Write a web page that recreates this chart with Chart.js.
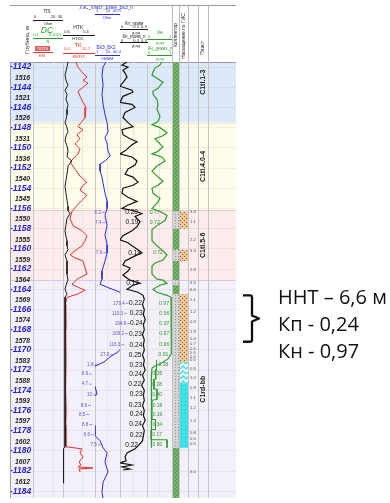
<!DOCTYPE html>
<html>
<head>
<meta charset="utf-8">
<script src="https://cdn.jsdelivr.net/npm/chart.js@4.4.0/dist/chart.umd.min.js"></script>
<style>
  html, body { margin: 0; padding: 0; background: #fff; }
  #wrap { width: 390px; height: 503px; }
</style>
</head>
<body>
<div id="wrap"><canvas id="c" width="390" height="503"></canvas></div>
<script>
// ---- depth reference (absolute depth, m, positive down) ----
const tvdTicks = [1142,1144,1146,1148,1150,1152,1154,1156,1158,1160,1162,1164,1166,1168,1170,1172,1174,1176,1178,1180,1182,1184];
const mdDepth  = [1143.1,1145.1,1147.1,1149.1,1151.1,1153.1,1155.1,1157.1,1159.1,1161.1,1163.1,1165.1,1167.1,1169.1,1171.1,1173.1,1175.1,1177.1,1179.1,1181.1,1183.1];
const mdLabels = ['1516','1521','1526','1531','1536','1540','1545','1550','1555','1559','1564','1569','1574','1578','1583','1588','1593','1597','1602','1607','1612'];

// ---- stratigraphic units ----
const zoneTop    = [1139.5, 1147.5, 1156.2, 1163.1];
const zoneBottom = [1147.5, 1156.2, 1163.1, 1184.7];
const zoneName   = ['C1tl.1-3', 'C1tl.4.0-4', 'C1tl.5-6', 'C1rd-bb'];

// ---- log curves: [depth, value] ----
const ntkCurve = [[1141.5,1.35],[1142.0,1.2],[1142.8,0.9],[1143.3,1.05],[1143.8,1.35],[1144.3,0.9],[1144.7,1.2],[1145.2,1.05],[1145.7,1.35],[1146.2,1.2],[1146.7,1.2],[1147.2,1.05],[1147.5,0.9],[1148.0,1.2],[1148.4,1.35],[1148.8,1.05],[1149.3,0.9],[1149.8,1.2],[1150.3,1.35],[1150.9,1.2],[1151.3,1.95],[1151.8,1.35],[1152.6,1.2],[1153.2,1.05],[1153.8,0.9],[1154.5,1.05],[1155.2,1.2],[1155.8,1.35],[1156.2,1.35],[1156.5,1.65],[1157.0,1.2],[1157.6,1.05],[1158.2,0.9],[1158.8,1.05],[1159.2,1.2],[1159.7,1.2],[1160.1,1.35],[1160.6,0.9],[1161.2,1.2],[1161.8,1.2],[1162.5,1.2],[1163.1,1.35],[1163.5,1.1],[1164.0,0.9],[1164.5,1.2],[1164.8,0.9],[1166.0,0.92],[1168.0,0.9],[1170.0,0.93],[1172.0,0.9],[1174.0,0.92],[1176.0,0.9],[1178.0,0.92],[1179.6,0.9],[1179.8,0.68],[1181.0,0.7],[1182.0,0.66],[1183.2,0.68]];

const tkCurve = [[1141.3,4.26],[1142.0,5.2],[1142.5,6.5],[1143.0,8.1],[1143.3,6.84],[1143.6,8.45],[1144.1,6.5],[1144.4,5.2],[1144.9,5.9],[1145.5,6.84],[1146.0,7.8],[1146.4,7.5],[1147.0,7.5],[1147.4,6.5],[1147.9,5.2],[1148.2,6.84],[1148.7,4.9],[1149.1,5.9],[1149.6,4.26],[1150.1,5.9],[1150.6,5.2],[1151.1,3.62],[1151.4,2.65],[1152.1,4.26],[1152.8,5.9],[1153.4,8.1],[1153.7,6.84],[1154.2,5.9],[1154.7,8.1],[1155.2,6.5],[1155.7,4.9],[1156.3,3.3],[1157.0,2.65],[1157.7,3.62],[1158.2,6.5],[1158.7,8.1],[1159.2,7.5],[1159.7,6.5],[1160.2,4.26],[1160.6,2.65],[1160.9,4.26],[1161.2,6.84],[1161.9,7.5],[1162.5,8.1],[1163.0,4.9],[1163.5,3.3],[1163.8,5.2],[1164.1,7.5],[1164.5,4.9],[1164.8,1.69],[1165.5,1.2],[1168.0,1.3],[1171.0,1.4],[1174.0,1.25],[1176.0,1.45],[1177.5,1.3],[1179.6,1.35],[1179.8,6.5],[1180.2,5.9],[1180.6,6.84],[1181.1,5.6],[1181.4,6.2],[1181.6,5.2],[1181.7,10.06],[1181.8,5.6],[1182.1,5.9]];

const bkCurve = [[1141.3,8.8],[1142.0,5.2],[1142.8,4.5],[1143.8,5.2],[1144.7,4.5],[1145.7,5.2],[1146.7,6.7],[1147.5,8.8],[1148.4,10],[1149.0,6.7],[1149.6,8.8],[1150.3,10],[1150.8,13],[1151.3,6.7],[1151.6,3.5],[1152.3,3.5],[1152.9,4.5],[1153.5,5.2],[1154.5,6.7],[1155.3,8.8],[1156.0,8.8],[1156.7,6.7],[1157.7,8.8],[1158.6,6.7],[1159.6,8.8],[1160.4,8.8],[1161.2,6.7],[1162.2,4.5],[1163.0,4.5],[1163.5,3.5],[1163.8,8.8],[1164.1,25],[1164.5,94],[1164.8,139],[1165.5,180],[1166.4,139],[1167.4,207],[1168.4,158],[1169.2,122],[1170.2,37],[1170.7,13],[1171.2,5.9],[1171.6,1.8],[1172.3,1.39],[1173.3,1.22],[1173.6,1.8],[1174.4,2.35],[1174.8,1.22],[1175.6,1.22],[1176.5,0.94],[1177.2,0.72],[1177.5,1.8],[1178.5,1.8],[1179.0,3.5],[1179.7,5.2],[1180.2,8.8],[1181.1,6.7],[1182.1,10],[1183.1,5.2],[1184.1,4.5],[1184.7,5.2]];

const kpCurve = [[1141.5,0.078],[1141.8,0.022],[1142.0,0.089],[1142.3,0.033],[1142.6,0.056],[1143.0,0.078],[1143.4,0.044],[1143.9,0.0],[1144.3,0.133],[1144.5,0.144],[1144.9,0.033],[1145.5,0.0],[1145.7,0.133],[1146.0,0.167],[1146.5,0.056],[1147.0,0.033],[1147.5,0.089],[1147.9,0.144],[1148.2,0.022],[1148.7,0.033],[1149.1,0.111],[1149.4,0.189],[1149.7,0.133],[1150.3,0.056],[1150.6,0.0],[1150.9,0.133],[1151.3,0.189],[1151.7,0.167],[1152.1,0.089],[1152.6,0.056],[1152.9,0.144],[1153.4,0.2],[1153.7,0.144],[1154.0,0.033],[1154.5,0.022],[1154.9,0.089],[1155.3,0.189],[1155.7,0.078],[1156.0,0.022],[1156.2,0.144],[1156.5,0.244],[1156.8,0.167],[1157.3,0.222],[1157.8,0.189],[1158.2,0.133],[1158.7,0.033],[1159.1,0.0],[1159.4,0.089],[1159.7,0.133],[1160.1,0.2],[1160.4,0.244],[1160.7,0.167],[1161.2,0.056],[1161.6,0.033],[1161.9,0.111],[1162.2,0.089],[1162.6,0.033],[1163.1,0.111],[1163.4,0.222],[1163.6,0.144],[1164.0,0.078],[1164.3,0.2],[1164.6,0.256],[1165.0,0.27],[1165.5,0.25],[1166.0,0.27],[1166.5,0.26],[1167.0,0.28],[1167.5,0.26],[1168.0,0.27],[1168.5,0.25],[1169.0,0.27],[1169.5,0.26],[1170.0,0.27],[1170.5,0.25],[1171.0,0.27],[1171.5,0.26],[1172.0,0.28],[1172.5,0.25],[1173.0,0.27],[1173.5,0.24],[1174.0,0.27],[1174.5,0.26],[1175.0,0.27],[1175.5,0.25],[1176.0,0.27],[1176.5,0.26],[1177.0,0.28],[1177.5,0.25],[1178.0,0.27],[1178.5,0.26],[1179.0,0.25],[1179.3,0.222],[1179.8,0.167],[1180.2,0.078],[1180.6,0.056],[1181.0,0.067],[1181.2,0.0],[1181.4,0.133],[1181.6,0.022],[1181.8,0.111],[1181.9,0.033]];

const knCurve = [[1141.3,0.64],[1141.8,0.52],[1142.1,0.32],[1142.5,0.24],[1142.8,0.2],[1143.1,0.4],[1143.5,0.64],[1144.1,0.44],[1144.4,0.24],[1144.7,0.24],[1145.2,0.4],[1145.7,0.44],[1146.2,0.4],[1146.9,0.52],[1147.4,0.44],[1147.7,0.2],[1148.0,0.52],[1148.5,0.8],[1148.8,0.64],[1149.1,0.32],[1149.6,0.52],[1149.9,0.64],[1150.4,0.4],[1150.6,0.2],[1150.9,0.6],[1151.3,0.72],[1151.8,0.4],[1152.3,0.2],[1152.8,0.4],[1153.3,0.64],[1153.7,0.44],[1154.0,0.2],[1154.5,0.24],[1155.0,0.52],[1155.5,0.4],[1156.0,0.2],[1156.3,0.52],[1156.7,0.8],[1157.2,0.72],[1157.7,0.4],[1158.1,0.2],[1158.6,0.2],[1159.2,0.2],[1159.7,0.4],[1160.2,0.64],[1160.6,0.8],[1161.1,0.64],[1161.4,0.32],[1161.7,0.2],[1162.5,0.2],[1163.0,0.4],[1163.1,0.64],[1163.4,0.8],[1163.6,0.52],[1164.0,0.24],[1164.3,0.4],[1164.6,0.8],[1164.8,0.96],[1166.0,0.97],[1167.0,0.98],[1168.0,0.97],[1169.0,0.98],[1170.0,0.97],[1170.4,0.96],[1170.9,0.84],[1171.4,0.52],[1171.6,0.32],[1171.8,0.2],[1172.5,0.18],[1174.0,0.17],[1176.0,0.19],[1178.0,0.17],[1179.7,0.18]];

// ---- interpretation: reservoir and saturation intervals ----
const reservoirTop    = [1156.3, 1160.1, 1163.1, 1164.5];
const reservoirBottom = [1158.0, 1161.2, 1163.6, 1179.7];
const satTop    = [1156.3, 1160.1, 1164.5, 1171.2, 1173.3];
const satBottom = [1158.0, 1161.2, 1171.2, 1173.3, 1179.7];
const satType   = ['oil', 'oil', 'oil', 'transition', 'water'];

// ---- interpreted layers: resistivity, porosity, oil saturation ----
const layerDepth = [1156.4,1157.4,1160.4,1163.4,1165.4,1166.4,1167.4,1168.4,1169.5,1170.5,1171.5,1172.4,1173.4,1174.4,1175.5,1176.4,1177.4,1178.4,1179.4];
const layerRt = [6.2,7.4,7.9,null,179.4,110.3,194.8,209.2,116.3,27.8,1.8,8.9,4.7,13,8.6,8.5,8.8,6.6,7.5];
const layerKp = [0.20,0.19,0.18,0.17,0.22,0.23,0.24,0.23,0.24,0.25,0.23,0.24,0.22,0.23,0.23,0.24,0.24,0.22,0.22];
const layerKn = [0.77,0.72,0.72,null,0.97,0.96,0.97,0.97,0.96,0.91,0.38,0.35,0.28,0.40,0.19,0.19,0.34,0.17,0.80];

// ---- interval thickness annotations ----
const thickDepth = [1156.38,1157.36,1159.12,1160.2,1162.06,1163.33,1164.02,1165.09,1166.27,1167.25,1168.23,1168.91,1169.4,1169.89,1170.28,1170.67,1170.96,1171.85,1172.82,1173.8,1174.78,1175.76,1177.03,1178.2,1178.79,1179.28,1182.12];
const thickText  = ['3.3','1.1','2.2','3.3','2.9','3.5','6.6','1.1','1.2','0.9','1.9','0.4','0.7','0.5','0.5','0.5','0.5','0.8','1.0','0.9','1.1','1.2','1.3','0.8','0.5','0.5','5.0'];

// ---- pay summary ----
const netPay = 6.6, avgKp = 0.24, avgKn = 0.97;
const payTop = 1164.6, payBottom = 1169.2;

// ================= drawing =================
const canvas = document.getElementById('c');
const SANS = '"Liberation Sans", Arial, sans-serif';
const zoneStyle = [
  { fill: '#dde9fb', edge: '#b9cfee' },
  { fill: '#fdfdea', edge: '#ecebc6' },
  { fill: '#fcecec', edge: '#f0c6c8' },
  { fill: '#f4f0f9', edge: '#d6cbe6' }
];

function makePattern(w, h, bg, paint) {
  const c = document.createElement('canvas');
  c.width = w; c.height = h;
  const g = c.getContext('2d');
  g.fillStyle = bg; g.fillRect(0, 0, w, h);
  paint(g);
  return canvas.getContext('2d').createPattern(c, 'repeat');
}
const fills = {
  shale: makePattern(4, 4, '#74b46b', g => { g.strokeStyle = '#4f8f48'; g.lineWidth = 1; g.beginPath(); g.moveTo(0, 4); g.lineTo(4, 0); g.stroke(); }),
  sand: makePattern(3, 3, '#d4d4d4', g => { g.fillStyle = '#8e8e8e'; g.fillRect(1, 1, 1, 1); }),
  oil: makePattern(4, 4, '#f0c897', g => { g.fillStyle = '#94582a'; g.fillRect(0, 0, 1, 1); g.fillRect(2, 2, 1, 1); }),
  water: makePattern(4, 4, '#3fe2eb', g => { g.fillStyle = '#2cbfcc'; g.fillRect(1, 1, 1, 1); }),
  transition: makePattern(6, 5, '#f2fdfd', g => { g.strokeStyle = '#38dbe6'; g.lineWidth = 1.4; g.beginPath(); g.moveTo(0, 4); g.lineTo(3, 1); g.lineTo(6, 4); g.stroke(); })
};

function interp(curve, d) {
  if (d <= curve[0][0]) return curve[0][1];
  for (let i = 1; i < curve.length; i++) {
    if (d <= curve[i][0]) {
      const [d0, v0] = curve[i - 1], [d1, v1] = curve[i];
      return v0 + (v1 - v0) * (d - d0) / (d1 - d0);
    }
  }
  return curve[curve.length - 1][1];
}
const comma = (v, n) => v.toFixed(n).replace('.', ',');

function text(ctx, s, x, y, o = {}) {
  ctx.save();
  ctx.fillStyle = o.color || '#222';
  ctx.font = `${o.italic ? 'italic ' : ''}${o.bold ? 'bold ' : ''}${o.size || 5}px ${o.family || SANS}`;
  ctx.textAlign = o.align || 'center';
  ctx.textBaseline = o.baseline || 'middle';
  ctx.translate(x, y);
  if (o.rotate) ctx.rotate(-Math.PI / 2);
  ctx.fillText(s, 0, 0);
  ctx.restore();
}
function hline(ctx, x1, x2, y, color, w = 1) {
  ctx.save(); ctx.strokeStyle = color; ctx.lineWidth = w;
  ctx.beginPath(); ctx.moveTo(x1, y); ctx.lineTo(x2, y); ctx.stroke(); ctx.restore();
}
function vline(ctx, x, y1, y2, color, w = 1) {
  ctx.save(); ctx.strokeStyle = color; ctx.lineWidth = w;
  ctx.beginPath(); ctx.moveTo(x, y1); ctx.lineTo(x, y2); ctx.stroke(); ctx.restore();
}

// ---- curve headers ----
const RED = '#e8322e', BLUE = '#2b2be0', GREEN = '#2e9d2e', INK = '#1b1b1b';
function drawHeader(chart) {
  const ctx = chart.ctx, s = chart.scales;
  const L = s.y.left, R = chart.chartArea.right, T = 5.5, B = chart.chartArea.top + 0.5;
  ctx.save();
  ctx.fillStyle = '#fff';
  ctx.fillRect(L, T, R - L, B - T);
  text(ctx, 'Глубина, м', 27, 40, { rotate: true, size: 5.5, color: '#333' });

  // ПС / DC / ГК column
  text(ctx, 'ПS', 47, 12, { size: 5 });
  text(ctx, '0', 35, 17, { size: 4 }); text(ctx, '20', 53, 17, { size: 4 }); text(ctx, '30', 60, 17, { size: 4 });
  hline(ctx, 33, 63, 20.5, INK);
  text(ctx, 'Ohm', 48, 24, { size: 4 });
  text(ctx, 'DC', 47, 30.5, { size: 8.5, italic: true, color: GREEN });
  text(ctx, '0.1', 36, 35, { size: 4, color: GREEN }); text(ctx, '0.2015', 55, 35, { size: 4, color: GREEN });
  hline(ctx, 33, 63, 38.5, GREEN);
  text(ctx, 'N', 48, 42, { size: 4, color: GREEN });
  ctx.fillStyle = '#e25b5b'; ctx.fillRect(35, 46, 15, 5);
  text(ctx, 'ГК/ПS', 42.5, 48.6, { size: 4, color: '#fff' });
  hline(ctx, 33, 53, 52.5, RED);
  text(ctx, 'EM', 42, 56, { size: 4, color: RED });

  // НТК / ТК
  text(ctx, 'НТК', 78, 28, { size: 5 });
  text(ctx, '0.6', 67, 32, { size: 4 }); text(ctx, '5.4', 86, 32, { size: 4 });
  hline(ctx, 63, 95, 35.5, INK);
  text(ctx, 'НТК/С', 78, 39, { size: 4 });
  text(ctx, 'ТК', 78, 45, { size: 6, color: RED });
  text(ctx, '0.4', 67, 49, { size: 4, color: RED }); text(ctx, '10.7', 86, 49, { size: 4, color: RED });
  hline(ctx, 63, 95, 53.5, RED);
  text(ctx, 'ИМП/С', 79, 57, { size: 4, color: RED });

  // resistivity
  text(ctx, 'УЭС_пласт_Бзаге_БКЗ_п', 106, 7.5, { size: 4.5, color: BLUE });
  text(ctx, '1', 97, 11, { size: 4, color: BLUE }); text(ctx, '10', 108, 11, { size: 4, color: BLUE }); text(ctx, '40.5', 117, 11, { size: 4, color: BLUE });
  hline(ctx, 95, 120, 14.5, BLUE);
  text(ctx, 'Ohm', 107, 18, { size: 4, color: BLUE });
  text(ctx, 'БКЗ_БК2', 106, 48, { size: 4.5, color: BLUE });
  text(ctx, '1', 97, 52, { size: 4, color: BLUE }); text(ctx, '10', 108, 52, { size: 4, color: BLUE }); text(ctx, '40.4', 117, 52, { size: 4, color: BLUE });
  hline(ctx, 95, 120, 55.5, BLUE);
  text(ctx, 'OHMM', 107, 59, { size: 4, color: BLUE });

  // porosity
  text(ctx, 'Кп_прим', 134, 23.5, { size: 4.5 });
  text(ctx, '0', 122, 27, { size: 4 }); text(ctx, '0.3  0.3', 140, 27, { size: 4 });
  hline(ctx, 120, 148, 29.5, INK);
  text(ctx, 'д.ед', 136, 33, { size: 4 });
  text(ctx, 'Кп_прим_п', 134, 37, { size: 4.5 });
  text(ctx, '0', 122, 40.5, { size: 4 }); text(ctx, '0.3  0.3', 140, 40.5, { size: 4 });
  hline(ctx, 120, 148, 42.5, INK);
  text(ctx, 'д.ед', 136, 46, { size: 4 });

  // oil saturation
  text(ctx, 'Кн', 160, 33, { size: 5, color: GREEN });
  text(ctx, '0', 149, 37, { size: 4, color: GREEN }); text(ctx, '1', 170, 37, { size: 4, color: GREEN });
  hline(ctx, 147, 172, 39.5, GREEN);
  text(ctx, 'д.ед', 160, 43, { size: 4, color: GREEN });
  text(ctx, 'Кн_дивиз_п', 160, 49, { size: 4.5, color: GREEN });
  text(ctx, '0', 149, 52.5, { size: 4, color: GREEN }); text(ctx, '1', 170, 52.5, { size: 4, color: GREEN });
  hline(ctx, 147, 172, 55.5, GREEN);
  text(ctx, 'д.ед', 160, 59, { size: 4, color: GREEN });

  // column titles
  const mid = sc => (sc.left + sc.right) / 2;
  text(ctx, 'Коллектор', mid(s.xCol), 35, { rotate: true, size: 5 });
  text(ctx, 'Насыщение по ГИС', mid(s.xSat), 36, { rotate: true, size: 5 });
  text(ctx, 'Пласт', mid(s.xPl), 48, { rotate: true, size: 5 });

  // frame
  hline(ctx, L, R, T, '#9a9a9a');
  hline(ctx, L, R, B, '#9a9a9a');
  [s.xCol.left, s.xSat.left, s.xH.left, s.xPl.left, s.xE.left].forEach(x => vline(ctx, Math.round(x) + 0.5, T, B, '#bdbdbd'));
  ctx.restore();
}

const logPlugin = {
  id: 'wellLog',
  beforeDraw(chart) {
    const { ctx, chartArea: a, scales: { y } } = chart;
    ctx.save();
    ctx.fillStyle = '#fff';
    ctx.fillRect(0, 0, chart.width, chart.height);
    ctx.beginPath();
    ctx.rect(y.left, a.top, a.right - y.left, a.bottom - a.top);
    ctx.clip();
    zoneTop.forEach((t, i) => {
      const y1 = y.getPixelForValue(t), y2 = y.getPixelForValue(zoneBottom[i]);
      ctx.fillStyle = zoneStyle[i].fill;
      ctx.fillRect(y.left, y1, a.right - y.left, y2 - y1);
    });
    zoneTop.forEach((t, i) => hline(ctx, y.left, a.right, Math.round(y.getPixelForValue(t)) + 0.5, zoneStyle[i].edge));
    ctx.restore();
    drawHeader(chart);
  },
  beforeDatasetsDraw(chart) {
    const { ctx, chartArea: a, scales: s } = chart;
    const y = s.y;
    ctx.save();
    ctx.beginPath(); ctx.rect(y.left, a.top, a.right - y.left, a.bottom - a.top); ctx.clip();
    const band = (sc, d1, d2, style) => {
      const y1 = y.getPixelForValue(d1), y2 = y.getPixelForValue(d2);
      ctx.fillStyle = style;
      ctx.fillRect(sc.left, y1, sc.right - sc.left, y2 - y1);
    };
    // collector column: shale between reservoirs
    let prev = y.min;
    reservoirTop.forEach((t, i) => { band(s.xCol, prev, t, fills.shale); band(s.xCol, t, reservoirBottom[i], fills.sand); prev = reservoirBottom[i]; });
    band(s.xCol, prev, y.max, fills.shale);
    // saturation column
    satTop.forEach((t, i) => band(s.xSat, t, satBottom[i], fills[satType[i]]));
    // column borders
    [s.xCol.left, s.xSat.left, s.xH.left, s.xPl.left, s.xE.left, a.right].forEach(x => vline(ctx, Math.round(x) + 0.5, a.top, a.bottom, '#c4c4c4'));
    vline(ctx, y.left + 0.5, 5, a.bottom, '#9a9a9a');
    vline(ctx, Math.round(a.right) + 0.5, 5, a.bottom, '#9a9a9a');
    // interval thickness
    thickDepth.forEach((d, i) => text(ctx, thickText[i], (s.xH.left + s.xH.right) / 2, y.getPixelForValue(d), { size: 4.2, color: '#555' }));
    // formation names
    zoneTop.forEach((t, i) => text(ctx, zoneName[i], (s.xPl.left + s.xPl.right) / 2, y.getPixelForValue((t + zoneBottom[i]) / 2), { rotate: true, bold: true, size: 7, color: '#1a1a1a' }));
    // measured depth labels
    mdDepth.forEach((d, i) => text(ctx, mdLabels[i], y.left + 5, y.getPixelForValue(d), { align: 'left', bold: true, italic: true, size: 6.8, color: '#222' }));
    ctx.restore();
  },
  afterDatasetsDraw(chart) {
    const { ctx, chartArea: a, scales: s } = chart;
    const y = s.y;
    ctx.save();
    layerDepth.forEach((d, i) => {
      const py = y.getPixelForValue(d);
      const wet = satTop.some((t, k) => satType[k] !== 'oil' && d >= t && d <= satBottom[k]);
      if (layerRt[i] !== null) {
        const cx = s.xBK.getPixelForValue(interp(bkCurve, d));
        text(ctx, String(layerRt[i]), cx - 5, py, { align: 'right', size: 4.6, color: '#5656e6' });
        hline(ctx, cx - 4, cx - 1, py, '#5656e6', 0.6);
      }
      const kx = s.xKp.getPixelForValue(interp(kpCurve, d));
      text(ctx, layerKp[i].toFixed(2), kx - 1, py, { align: 'right', size: 6.6, color: '#111' });
      if (layerKn[i] !== null) {
        if (wet) {
          const bx = s.xKn.getPixelForValue(interp(knCurve, d));
          text(ctx, layerKn[i].toFixed(2), bx + 1, py, { align: 'left', size: 5, color: GREEN });
        } else {
          const gx = s.xKn.getPixelForValue(interp(knCurve, d));
          text(ctx, layerKn[i].toFixed(2), gx - 2, py, { align: 'right', size: 5.2, color: GREEN });
        }
      }
    });
    // pay interval summary
    const yt = y.getPixelForValue(payTop), yb = y.getPixelForValue(payBottom), ym = (yt + yb) / 2;
    const bx = a.right + 16;
    ctx.strokeStyle = '#111'; ctx.lineWidth = 2.3; ctx.lineJoin = 'round';
    ctx.beginPath();
    ctx.moveTo(bx - 9, yt); ctx.lineTo(bx - 2, yt); ctx.quadraticCurveTo(bx, yt, bx, yt + 2);
    ctx.lineTo(bx, ym - 3); ctx.lineTo(bx + 7, ym); ctx.lineTo(bx, ym + 3);
    ctx.lineTo(bx, yb - 2); ctx.quadraticCurveTo(bx, yb, bx - 2, yb); ctx.lineTo(bx - 9, yb);
    ctx.stroke();
    const tx = a.right + 42, fam = '"Open Sans", "Noto Sans", sans-serif';
    text(ctx, `ННТ – ${comma(netPay, 1)} м`, tx, yt + 9, { align: 'left', baseline: 'alphabetic', size: 20, family: fam, color: '#111' });
    text(ctx, `Кп - ${comma(avgKp, 2)}`, tx, yt + 36, { align: 'left', baseline: 'alphabetic', size: 20, family: fam, color: '#111' });
    text(ctx, `Кн - ${comma(avgKn, 2)}`, tx, yt + 63, { align: 'left', baseline: 'alphabetic', size: 20, family: fam, color: '#111' });
    ctx.restore();
  }
};

// ---- track axes: stacked side by side across the plot ----
function track(stack, weight, min, max, opts = {}) {
  const grid = opts.grid || [];
  return {
    type: opts.log ? 'logarithmic' : 'linear',
    position: 'bottom', stack, stackWeight: weight, min, max,
    ticks: { display: false },
    border: { display: false },
    grid: {
      display: grid.length > 0, drawTicks: false, lineWidth: 1,
      color: c => (c.index === 0 ? '#c8c8c8' : '#e6e6e6')
    },
    afterBuildTicks: sc => {
      sc.ticks = grid.map(f => ({ value: opts.log ? min * Math.pow(max / min, f) : min + f * (max - min) }));
    }
  };
}

// water-zone oil saturation as a stepped profile per layer
const wetSteps = [];
layerDepth.forEach((d, i) => {
  const wet = satTop.some((t, k) => satType[k] !== 'oil' && d >= t && d <= satBottom[k]);
  if (wet && layerKn[i] !== null) {
    wetSteps.push({ x: layerKn[i], y: d - 0.5 }, { x: layerKn[i], y: Math.min(d + 0.5, satBottom[satBottom.length - 1]) });
  }
});

const curve = (pts, axis, color, width) => ({
  type: 'line', indexAxis: 'y', xAxisID: axis, yAxisID: 'y',
  data: pts.map(([d, v]) => ({ x: v, y: d })),
  borderColor: color, borderWidth: width, pointRadius: 0, tension: 0, fill: false
});

new Chart(canvas, {
  type: 'line',
  data: {
    datasets: [
      curve(ntkCurve, 'xNTK', '#1b1b1b', 1),
      curve(tkCurve, 'xTK', RED, 1),
      curve(bkCurve, 'xBK', BLUE, 1),
      curve(kpCurve, 'xKp', '#111', 1.2),
      curve(knCurve, 'xKn', GREEN, 1.2),
      { type: 'line', indexAxis: 'y', xAxisID: 'xKn', yAxisID: 'y', data: wetSteps,
        borderColor: GREEN, borderWidth: 1, pointRadius: 0, tension: 0, fill: false }
    ]
  },
  options: {
    responsive: false,
    animation: false,
    events: [],
    layout: { padding: { top: 62, left: 10, right: 154, bottom: 0 } },
    plugins: { legend: { display: false }, tooltip: { enabled: false } },
    scales: {
      y: {
        type: 'linear', position: 'left', reverse: true, min: 1141.5, max: 1184.66,
        afterFit: sc => { sc.width = 23; },
        afterBuildTicks: sc => { sc.ticks = tvdTicks.map(v => ({ value: v })); },
        ticks: {
          autoSkip: false, crossAlign: 'far', padding: 0,
          color: '#1f1fe8',
          font: { family: SANS, size: 8.5, weight: 'bold', style: 'italic' },
          callback: v => '-' + v
        },
        grid: { color: 'rgba(0,0,0,0.05)', drawTicks: false },
        border: { display: false }
      },
      xPS:  track('tracks', 30, 0, 30, { grid: [0, 0.67] }),
      xNTK: track('tracks', 32, 0.6, 5.4, { grid: [0, 0.62] }),
      xBK:  track('tracks', 25, 1.8, 48, { log: true, grid: [0, 0.5] }),
      xKp:  track('tracks', 27, 0, 0.3, { grid: [0, 0.5] }),
      xKn:  track('tracks', 25, 0, 1, { grid: [0, 0.5] }),
      xCol: track('tracks', 7, 0, 1),
      xSat: track('tracks', 9, 0, 1),
      xH:   track('tracks', 10, 0, 1),
      xPl:  track('tracks', 10, 0, 1),
      xE:   track('tracks', 28, 0, 1),
      xO1:  track('overlay', 30, 0, 1),
      xTK:  track('overlay', 32, 0.4, 10.7),
      xO2:  track('overlay', 141, 0, 1)
    }
  },
  plugins: [logPlugin]
});
</script>
</body>
</html>
